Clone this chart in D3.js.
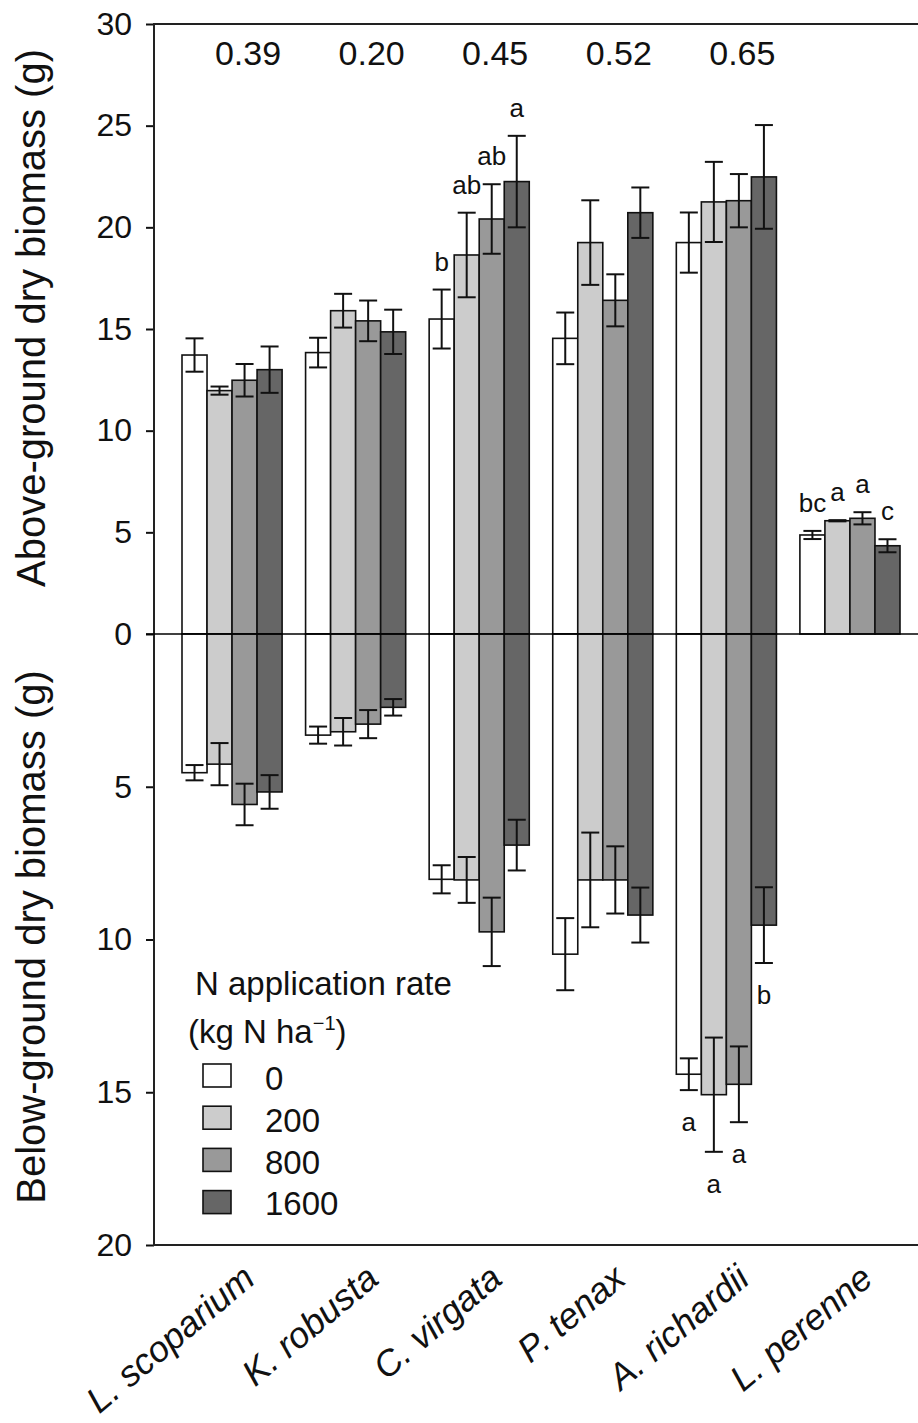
<!DOCTYPE html>
<html>
<head>
<meta charset="utf-8">
<script src="https://cdn.jsdelivr.net/npm/d3@7/dist/d3.min.js"></script>
<style>
  body { margin: 0; background: #fff; }
  svg { display: block; }
  text { font-family: "Liberation Sans", Arial, sans-serif; fill: #111; }
</style>
</head>
<body>
<svg id="chart" width="918" height="1423"></svg>
<script>
// Species and N application rates (kg N ha-1)
const species = ["L. scoparium", "K. robusta", "C. virgata", "P. tenax", "A. richardii", "L. perenne"];
const rates = ["0", "200", "800", "1600"];

// Above-ground dry biomass (g): mean and SE, one row per species, one column per rate
const aboveMean = [
  [13.72, 11.97, 12.48, 13.00],
  [13.84, 15.90, 15.40, 14.86],
  [15.49, 18.64, 20.41, 22.25],
  [14.54, 19.25, 16.41, 20.72],
  [19.25, 21.25, 21.31, 22.48],
  [4.87, 5.57, 5.69, 4.34]
];
const aboveSE = [
  [0.82, 0.20, 0.80, 1.14],
  [0.73, 0.83, 1.00, 1.09],
  [1.45, 2.08, 1.71, 2.25],
  [1.27, 2.08, 1.28, 1.24],
  [1.48, 1.97, 1.31, 2.55],
  [0.20, 0.03, 0.30, 0.32]
];

// Below-ground dry biomass (g): mean and SE (no data for L. perenne)
const belowMean = [
  [4.54, 4.26, 5.58, 5.17],
  [3.31, 3.20, 2.95, 2.40],
  [8.03, 8.05, 9.75, 6.91],
  [10.48, 8.05, 8.05, 9.20],
  [14.41, 15.08, 14.74, 9.53],
  [null, null, null, null]
];
const belowSE = [
  [0.25, 0.69, 0.68, 0.55],
  [0.28, 0.45, 0.46, 0.27],
  [0.46, 0.75, 1.12, 0.83],
  [1.18, 1.55, 1.10, 0.90],
  [0.52, 1.87, 1.24, 1.24],
  [null, null, null, null]
];

// Significance letters and per-species values printed along the top
const aboveLetters = [
  ["", "", "", ""],
  ["", "", "", ""],
  ["b", "ab", "ab", "a"],
  ["", "", "", ""],
  ["", "", "", ""],
  ["bc", "a", "a", "c"]
];
const belowLetters = [
  ["", "", "", ""],
  ["", "", "", ""],
  ["", "", "", ""],
  ["", "", "", ""],
  ["a", "a", "a", "b"],
  ["", "", "", ""]
];
const topValues = ["0.39", "0.20", "0.45", "0.52", "0.65", ""];

const aboveTicks = [0, 5, 10, 15, 20, 25, 30];
const belowTicks = [5, 10, 15, 20];

const fills = ["#ffffff", "#cccccc", "#999999", "#666666"];

// ---- layout ----
const svg = d3.select("#chart");
const axisX = 154, topY = 24, zeroY = 634, bottomY = 1245, rightX = 918;

const x = d3.scaleBand().domain(species).range([182, 900]).paddingInner(0.19).paddingOuter(0);
const xi = d3.scaleBand().domain(rates).range([0, x.bandwidth()]);
const yUp = d3.scaleLinear().domain([0, 30]).range([zeroY, topY]);
const yDown = d3.scaleLinear().domain([0, 20]).range([zeroY, bottomY]);

// flatten into records
const recs = [];
species.forEach((sp, i) => rates.forEach((r, j) => {
  recs.push({sp, r, j, up: aboveMean[i][j], upSE: aboveSE[i][j], upL: aboveLetters[i][j],
    dn: belowMean[i][j], dnSE: belowSE[i][j], dnL: belowLetters[i][j]});
}));
const cx = d => x(d.sp) + xi(d.r) + xi.bandwidth() / 2;

// bars
const gBars = svg.append("g");
gBars.selectAll("rect.up").data(recs).join("rect")
  .attr("class", "up")
  .attr("x", d => x(d.sp) + xi(d.r))
  .attr("y", d => yUp(d.up))
  .attr("width", xi.bandwidth())
  .attr("height", d => zeroY - yUp(d.up))
  .attr("fill", d => fills[d.j])
  .attr("stroke", "#111").attr("stroke-width", 1.6);

gBars.selectAll("rect.dn").data(recs.filter(d => d.dn != null)).join("rect")
  .attr("class", "dn")
  .attr("x", d => x(d.sp) + xi(d.r))
  .attr("y", zeroY)
  .attr("width", xi.bandwidth())
  .attr("height", d => yDown(d.dn) - zeroY)
  .attr("fill", d => fills[d.j])
  .attr("stroke", "#111").attr("stroke-width", 1.6);

// error bars
const capHalf = 9;
const gErr = svg.append("g").attr("stroke", "#111").attr("stroke-width", 2).attr("fill", "none");
function errBar(g, xc, y1, y2) {
  g.append("line").attr("x1", xc).attr("x2", xc).attr("y1", y1).attr("y2", y2);
  g.append("line").attr("x1", xc - capHalf).attr("x2", xc + capHalf).attr("y1", y1).attr("y2", y1);
  g.append("line").attr("x1", xc - capHalf).attr("x2", xc + capHalf).attr("y1", y2).attr("y2", y2);
}
recs.forEach(d => {
  errBar(gErr, cx(d), yUp(d.up + d.upSE), yUp(d.up - d.upSE));
  if (d.dn != null) errBar(gErr, cx(d), yDown(d.dn - d.dnSE), yDown(d.dn + d.dnSE));
});

// significance letters
svg.append("g").selectAll("text").data(recs.filter(d => d.upL)).join("text")
  .attr("x", cx).attr("y", d => yUp(d.up + d.upSE) - 19)
  .attr("text-anchor", "middle").attr("font-size", 26).text(d => d.upL);
svg.append("g").selectAll("text").data(recs.filter(d => d.dnL)).join("text")
  .attr("x", cx).attr("y", d => yDown(d.dn + d.dnSE) + 41)
  .attr("text-anchor", "middle").attr("font-size", 26).text(d => d.dnL);

// values along the top
svg.append("g").selectAll("text").data(species).join("text")
  .attr("x", d => x(d) + x.bandwidth() / 2 + 16).attr("y", 65)
  .attr("text-anchor", "middle").attr("font-size", 34)
  .text((d, i) => topValues[i]);

// axes
const axUp = d3.axisLeft(yUp).tickValues(aboveTicks).tickSize(8).tickPadding(14).tickFormat(d3.format("d"));
const axDn = d3.axisLeft(yDown).tickValues(belowTicks).tickSize(8).tickPadding(14).tickFormat(d3.format("d"));
[axUp, axDn].forEach(ax => {
  const g = svg.append("g").attr("transform", `translate(${axisX},0)`).call(ax);
  g.select(".domain").remove();
  g.selectAll(".tick line").attr("stroke", "#111").attr("stroke-width", 2);
  g.selectAll(".tick text").attr("font-size", 32).attr("font-family", '"Liberation Sans", Arial, sans-serif').attr("fill", "#111");
});

// frame lines
const frame = svg.append("g").attr("stroke", "#222").attr("stroke-width", 2);
frame.append("line").attr("x1", axisX).attr("x2", axisX).attr("y1", topY - 1).attr("y2", bottomY + 1);
frame.append("line").attr("x1", axisX).attr("x2", rightX).attr("y1", topY).attr("y2", topY);
frame.append("line").attr("x1", axisX).attr("x2", rightX).attr("y1", bottomY).attr("y2", bottomY);
svg.append("line").attr("x1", axisX - 8).attr("x2", rightX).attr("y1", zeroY).attr("y2", zeroY)
  .attr("stroke", "#000").attr("stroke-width", 1.6);

// axis titles
svg.append("text").attr("transform", `translate(45,318) rotate(-90)`)
  .attr("text-anchor", "middle").attr("font-size", 40).text("Above-ground dry biomass (g)");
svg.append("text").attr("transform", `translate(45,937) rotate(-90)`)
  .attr("text-anchor", "middle").attr("font-size", 40).text("Below-ground dry biomass (g)");

// species labels
svg.append("g").selectAll("text").data(species).join("text")
  .attr("transform", d => `translate(${x(d) + x.bandwidth() / 2 + 25},1282) rotate(-40)`)
  .attr("text-anchor", "end").attr("font-size", 36).attr("font-style", "italic")
  .text(d => d);

// legend
const lg = svg.append("g");
lg.append("text").attr("x", 195).attr("y", 995).attr("font-size", 33).text("N application rate");
const t2 = lg.append("text").attr("x", 188).attr("y", 1043).attr("font-size", 33);
t2.append("tspan").text("(kg N ha");
t2.append("tspan").attr("font-size", 20).attr("dy", -13).text("\u22121");
t2.append("tspan").attr("dy", 13).text(")");
rates.forEach((r, k) => {
  lg.append("rect").attr("x", 203).attr("y", 1064 + k * 42.2).attr("width", 28).attr("height", 23)
    .attr("fill", fills[k]).attr("stroke", "#111").attr("stroke-width", 1.6);
  lg.append("text").attr("x", 265).attr("y", 1090 + k * 41.8).attr("font-size", 33).text(r);
});
</script>
</body>
</html>
